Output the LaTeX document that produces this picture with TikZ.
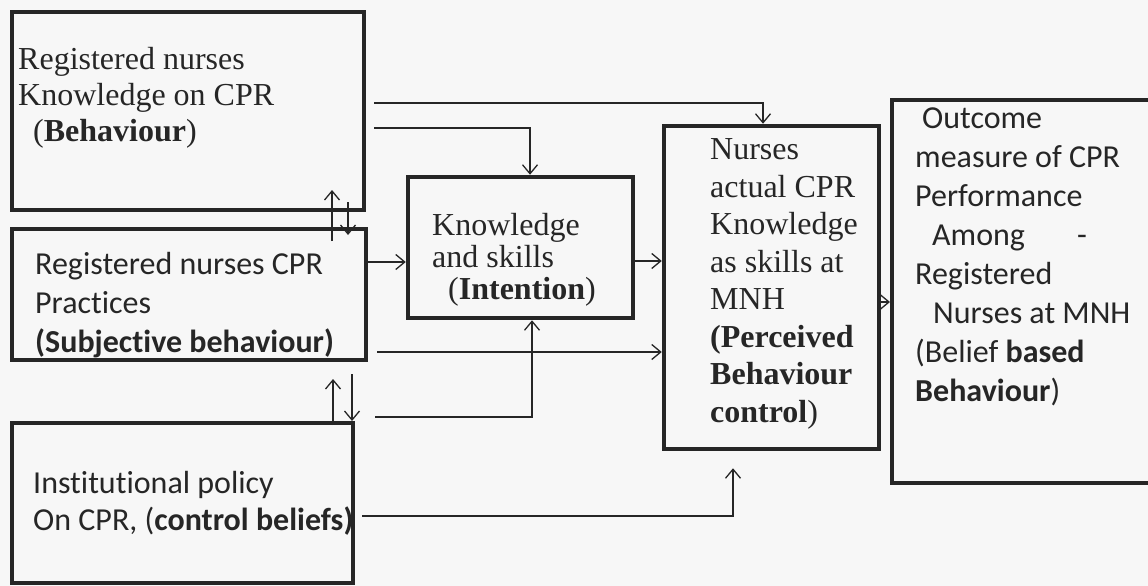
\documentclass[tikz,border=0pt]{standalone}
\usepackage{fontspec}
\setmainfont{Liberation Serif}
\newfontfamily\calfont[Ligatures=NoCommon]{Carlito}
\usetikzlibrary{arrows.meta}

\begin{document}
\begin{tikzpicture}[x=1pt, y=-1pt,
    >={Straight Barb[length=9pt,width=15pt]},
    box/.style={draw=black!85, line width=4pt, inner sep=0pt},
    txt/.style={anchor=base west, align=left, inner sep=0pt, text=black!85,
      font=\fontsize{32}{36}\selectfont},
    sans/.style={txt, font=\calfont\fontsize{32}{39}\selectfont},
    link/.style={->, draw=black!85, line width=1.3pt}]
  \useasboundingbox[fill=black!3] (0,0) rectangle (1148,586);
  % boxes
  \node[box, minimum width=352pt, minimum height=198pt] (behav) at (188,111) {};
  \node[box, minimum width=354pt, minimum height=131pt] (subj) at (189,294.5) {};
  \node[box, minimum width=341pt, minimum height=160pt] (policy) at (182.5,503) {};
  \node[box, line width=4.5pt, minimum width=225pt, minimum height=141pt] (intent) at (520.5,247.5) {};
  \node[box, line width=4.5pt, minimum width=215pt, minimum height=323pt] (actual) at (771.5,287.5) {};
  \node[box, minimum width=263pt, minimum height=383pt] (outcome) at (1023.5,291.5) {};
  % texts (anchored at the baseline of their last line)
  \node[txt] (behavtxt) at (18,141) {Registered nurses\\Knowledge on CPR\\
    \hspace*{15pt}(\textbf{Behaviour})};
  \node[sans] (subjtxt) at (35,352) {Registered nurses CPR\\Practices\\
    \textbf{(Subjective behaviour)}};
  \node[sans, font=\calfont\fontsize{32}{37}\selectfont] (policytxt) at (33,530)
    {Institutional policy\\On CPR, (\textbf{control beliefs)}};
  \node[txt, font=\fontsize{32}{32}\selectfont] (intenttxt) at (432,299)
    {Knowledge\\and skills\\\hspace*{16pt}(\textbf{Intention})};
  \node[txt, font=\fontsize{32}{37.5}\selectfont] (actualtxt) at (710,422)
    {Nurses\\actual CPR\\Knowledge\\as skills at\\MNH\\\textbf{(Perceived}\\
    \textbf{Behaviour}\\\textbf{control})};
  \node[sans] (outcometxt) at (915,401) {\hspace*{7pt}Outcome\\measure of CPR\\
    Performance\\\hspace*{17pt}Among\hspace{52pt}-\\Registered\\
    \hspace*{18pt}Nurses at MNH\\(Belief \textbf{based}\\\textbf{Behaviour})};
  % connectors
  \draw[link, shorten <=8pt] (behav.east |- 0,103) -| (actual.north -| 763,0);
  \draw[link, shorten <=8pt] (behav.east |- 0,128) -| (intent.north -| 530,0);
  \draw[link] (subj.east |- 0,262) -- (intent.west |- 0,262);
  \draw[link] (intent.east |- 0,261) -- (actual.west |- 0,261);
  \draw[link, shorten <=9pt] (subj.east |- 0,352) -- (actual.west |- 0,352);
  \draw[link, shorten <=20pt] ([yshift=4pt]policy.north east) -| (intent.south -| 532,0);
  \draw[link, shorten <=7pt, shorten >=17pt] (policy.east |- 0,516) -| (actual.south -| 733,0);
  \draw[link] (actual.east |- 0,302) -- (outcome.west |- 0,302);
  % two-way arrows
  \draw[link, shorten <=-14pt, shorten >=-22pt] (subj.north -| 332,0) -- (behav.south -| 332,0);
  \draw[link, shorten <=-10pt, shorten >=-8pt] (behav.south -| 348,0) -- (subj.north -| 348,0);
  \draw[link, shorten <=-4pt, shorten >=17pt] (policy.north -| 333,0) -- (subj.south -| 333,0);
  \draw[link, shorten <=12pt] (subj.south -| 352,0) -- (policy.north -| 352,0);
\end{tikzpicture}
\end{document}
